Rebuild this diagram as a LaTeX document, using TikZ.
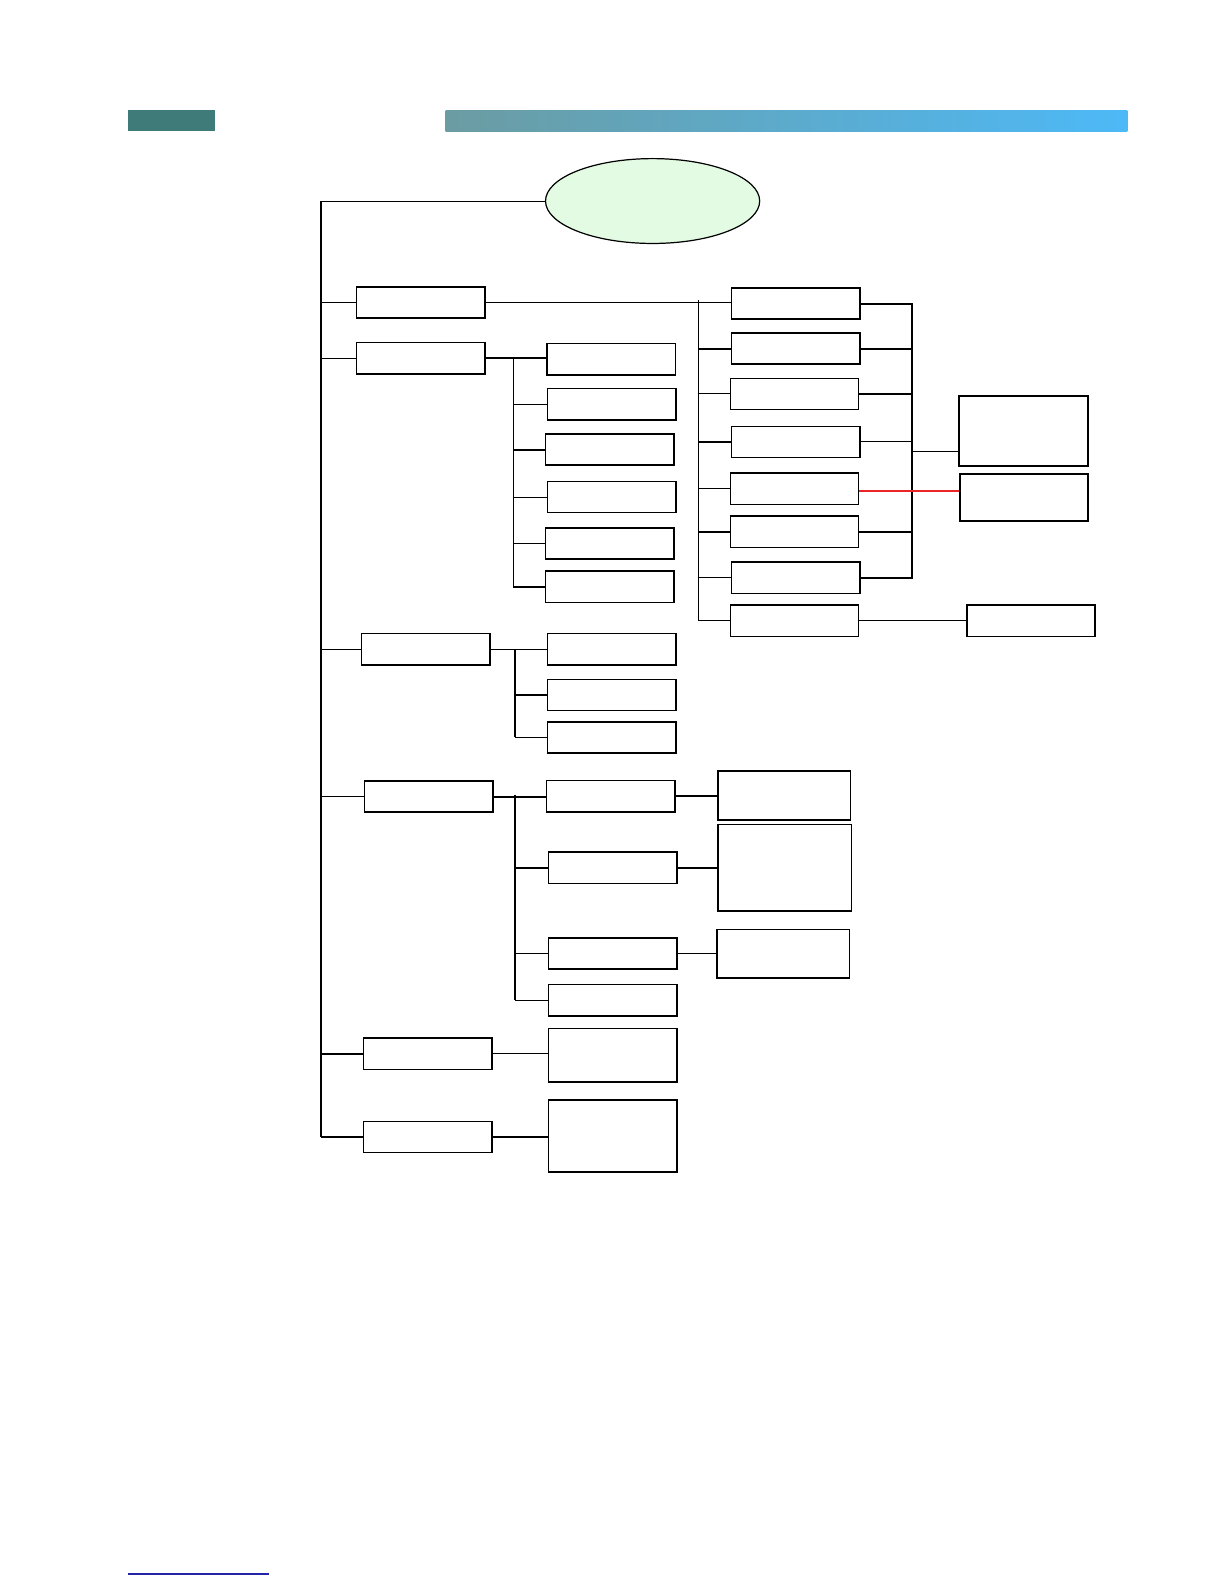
\documentclass[tikz,border=0pt]{standalone}
\usepackage{tikz}
\usepackage{xcolor}
\usetikzlibrary{calc,shapes.geometric}
\definecolor{Ink}{HTML}{000000}
\definecolor{Mint}{HTML}{E3FBE3}
\definecolor{Teal}{HTML}{3F7B79}
\definecolor{SteelL}{HTML}{6B9CA2}
\definecolor{SkyR}{HTML}{4DB9F7}
\definecolor{Alert}{HTML}{E8262A}
\definecolor{Link}{HTML}{2424A8}
\tikzset{
  box/.style={draw=Ink,fill=white,line width=1.6pt,minimum width=127pt,minimum height=31pt,inner sep=0pt},
  oval/.style={draw=Ink,fill=Mint,ellipse,line width=1.2pt,minimum width=212pt,minimum height=84pt},
  link/.style={draw=Ink,line width=1pt},
  boldlink/.style={draw=Ink,line width=2pt},
  redlink/.style={draw=Alert,line width=1.6pt}
}

\begin{document}
\begin{tikzpicture}[x=1pt,y=-1pt]
  \useasboundingbox (0,0) rectangle (1212,1568);
  \fill[Teal] (127,109) rectangle (213,130);
  \shade[left color=SteelL,right color=SkyR] (441,109) rectangle (1116,130);
  \draw[Link,line width=1.2pt] (127,1558) -- (266,1558);

  \node[oval] (root) at (646,199) {};

  \node[box] (sec1) at (416.5,299.5) {};
  \node[box] (sec2) at (416.5,354.5) {};
  \node[box] (sec3) at (421.5,642.5) {};
  \node[box] (sec4) at (424.5,788.5) {};
  \node[box] (sec5) at (423.5,1043) {};
  \node[box] (sec6) at (423.5,1125.5) {};

  \node[box] (mod1) at (787.5,300.5) {};
  \node[box] (mod2) at (787.5,345) {};
  \node[box] (mod3) at (786.5,390) {};
  \node[box] (mod4) at (787.5,437.5) {};
  \node[box] (mod5) at (786.5,484) {};
  \node[box] (mod6) at (786.5,526.5) {};
  \node[box] (mod7) at (787.5,572) {};
  \node[box] (mod8) at (786.5,614.5) {};
  \node[box,minimum width=128pt,minimum height=69pt] (out1) at (1013,426.5) {};
  \node[box,minimum height=47pt] (out2) at (1013.5,492.5) {};
  \node[box] (out3) at (1020.5,614.5) {};

  \node[box] (sub1) at (605,355.5) {};
  \node[box] (sub2) at (605.5,400) {};
  \node[box] (sub3) at (603.5,445) {};
  \node[box] (sub4) at (605.5,492) {};
  \node[box] (sub5) at (603.5,538) {};
  \node[box] (sub6) at (603.5,581) {};

  \node[box] (opt1) at (605.5,642.5) {};
  \node[box] (opt2) at (605.5,688) {};
  \node[box] (opt3) at (605.5,730) {};

  \node[box] (stp1) at (604.5,788) {};
  \node[box] (stp2) at (606.5,859) {};
  \node[box] (stp3) at (606.5,944) {};
  \node[box] (stp4) at (606.5,990) {};
  \node[box,minimum width=131pt,minimum height=49pt] (res1) at (776.5,787.5) {};
  \node[box,minimum width=132pt,minimum height=86pt] (res2) at (777,859) {};
  \node[box,minimum width=131pt,minimum height=48pt] (res3) at (775.5,944) {};

  \node[box,minimum height=53pt] (end1) at (606.5,1044.5) {};
  \node[box,minimum height=71pt] (end2) at (606.5,1124.5) {};

  \coordinate (trunk) at (318,199);
  \coordinate (busM) at (691,297);
  \coordinate (busR) at (903,297);
  \coordinate (joinR) at (903,447);
  \coordinate (busS) at (508,355.5);
  \coordinate (busO) at (510,642.5);
  \coordinate (busP) at (510,787);

  \draw[link] (root.west) -- (trunk);
  \draw[boldlink] (trunk) -- (trunk |- sec6.west);
  \foreach \n in {sec1,sec2,sec3,sec4} \draw[link] (\n.west) -- (\n.west -| trunk);
  \foreach \n in {sec5,sec6} \draw[boldlink] (\n.west) -- (\n.west -| trunk);

  \draw[link] (sec1.east) -- (sec1.east -| mod1.west);
  \draw[link] (busM) -- (busM |- mod8.west);
  \foreach \n in {mod3,mod5,mod7,mod8} \draw[link] (\n.west) -- (\n.west -| busM);
  \foreach \n in {mod2,mod4,mod6} \draw[boldlink] (\n.west) -- (\n.west -| busM);
  \draw[boldlink] (mod1.east) -- (mod1.east -| busR) -- (busR |- mod7.east) -- (mod7.east);
  \foreach \n in {mod2,mod3,mod6} \draw[boldlink] (\n.east) -- (\n.east -| busR);
  \draw[link] (mod4.east) -- (mod4.east -| busR);
  \draw[link] (joinR) -- (joinR -| out1.west);
  \draw[redlink] ($(mod5.east)+(0,2)$) -- ($(mod5.east -| out2.west)+(0,2)$);
  \draw[link] (mod8.east) -- (mod8.east -| out3.west);

  \draw[boldlink] (sec2.east) -- (sec2.east -| sub1.west);
  \draw[link] (busS) -- (busS |- sub6.west);
  \foreach \n in {sub2,sub4,sub5} \draw[link] (\n.west) -- (\n.west -| busS);
  \foreach \n in {sub3,sub6} \draw[boldlink] (\n.west) -- (\n.west -| busS);

  \draw[link] (sec3.east) -- (sec3.east -| opt1.west);
  \draw[boldlink] (busO) -- (busO |- opt3.west);
  \draw[link] (opt3.west) -- (opt3.west -| busO);
  \draw[boldlink] (opt2.west) -- (opt2.west -| busO);

  \draw[boldlink] (sec4.east) -- (sec4.east -| stp1.west);
  \draw[boldlink] (busP) -- (busP |- stp4.west);
  \draw[boldlink] (stp2.west) -- (stp2.west -| busP);
  \foreach \n in {stp3,stp4} \draw[link] (\n.west) -- (\n.west -| busP);
  \draw[boldlink] (stp1.east) -- (stp1.east -| res1.west);
  \draw[boldlink] (stp2.east) -- (stp2.east -| res2.west);
  \draw[link] (stp3.east) -- (stp3.east -| res3.west);

  \draw[link] (sec5.east) -- (sec5.east -| end1.west);
  \draw[link] (sec6.east) -- (sec6.east -| end2.west);
\end{tikzpicture}
\end{document}
